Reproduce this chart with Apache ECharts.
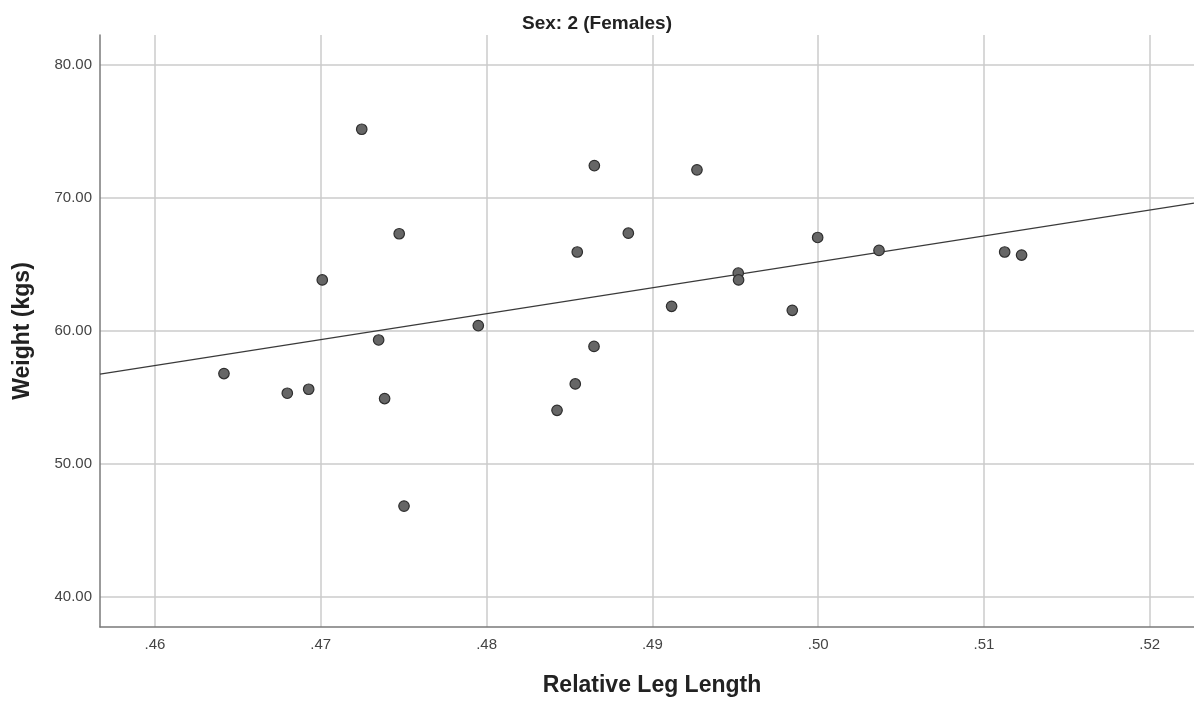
<!DOCTYPE html>
<html>
<head>
<meta charset="utf-8">
<script src="https://cdn.jsdelivr.net/npm/echarts@6/dist/echarts.min.js"></script>
<style>
html,body{margin:0;padding:0;background:#fff;}
#chart{width:1194px;height:702px;}
</style>
</head>
<body>
<div id="chart"></div>
<script>
// Relative leg length (x) and weight in kg (y) for each female subject
const legLength = [0.46416, 0.46798, 0.46927, 0.47009, 0.47247, 0.47349, 0.47385, 0.47473, 0.47502, 0.47950,
                   0.48425, 0.48535, 0.48547, 0.48650, 0.48648, 0.48855, 0.49116, 0.49269, 0.49518, 0.49520,
                   0.49844, 0.49997, 0.50367, 0.51125, 0.51227];
const weight    = [56.80, 55.32, 55.62, 63.83, 75.15, 59.32, 54.92, 67.30, 46.84, 60.40,
                   54.04, 56.02, 65.93, 72.42, 58.84, 67.34, 61.85, 72.10, 64.35, 63.83,
                   61.55, 67.02, 66.05, 65.93, 65.70];
// Linear fit line end points (at the axis extremes)
const fitX = [0.456683, 0.52267];
const fitY = [56.75, 69.60];
// Axis ranges
const xRange = [0.456683, 0.52267];
const yRange = [37.76, 82.23];
const titleText = 'Sex: 2 (Females)';
const xName = 'Relative Leg Length';
const yName = 'Weight (kgs)';

const points = legLength.map((x, i) => [x, weight[i]]);
const fitLine = fitX.map((x, i) => [x, fitY[i]]);

const chart = echarts.init(document.getElementById('chart'), null, {renderer: 'canvas'});
chart.setOption({
  animation: false,
  backgroundColor: '#ffffff',
  title: {
    text: titleText,
    left: 'center',
    top: 9,
    padding: [5, 5, 5, 12],
    textStyle: {fontFamily: 'Liberation Sans, Arial, sans-serif', fontWeight: 'bold', fontSize: 19, color: '#222'}
  },
  grid: {left: 100, right: 0, top: 35, bottom: 74, containLabel: false},
  xAxis: {
    type: 'value',
    min: xRange[0],
    max: xRange[1],
    splitNumber: 5,
    name: xName,
    nameLocation: 'middle',
    nameGap: 47,
    nameTextStyle: {fontFamily: 'Liberation Sans, Arial, sans-serif', fontWeight: 'bold', fontSize: 23, color: '#222', padding: [0, 0, 0, 10]},
    axisLine: {show: true, lineStyle: {color: '#7a7a7a', width: 1.5}},
    axisTick: {show: false},
    axisLabel: {
      margin: 10,
      showMinLabel: false,
      showMaxLabel: false,
      fontFamily: 'Liberation Sans, Arial, sans-serif',
      fontSize: 15,
      color: '#444',
      formatter: v => v.toFixed(2).replace(/^0/, '')
    },
    splitLine: {show: true, showMinLine: false, showMaxLine: false, lineStyle: {color: '#cbcbcb', width: 1.5}}
  },
  yAxis: {
    type: 'value',
    min: yRange[0],
    max: yRange[1],
    splitNumber: 5,
    name: yName,
    nameLocation: 'middle',
    nameGap: 66,
    nameTextStyle: {fontFamily: 'Liberation Sans, Arial, sans-serif', fontWeight: 'bold', fontSize: 23, color: '#222'},
    axisLine: {show: true, lineStyle: {color: '#7a7a7a', width: 1.5}},
    axisTick: {show: false},
    axisLabel: {
      margin: 8,
      showMinLabel: false,
      showMaxLabel: false,
      fontFamily: 'Liberation Sans, Arial, sans-serif',
      fontSize: 15,
      color: '#444',
      formatter: v => v.toFixed(2)
    },
    splitLine: {show: true, showMinLine: false, showMaxLine: false, lineStyle: {color: '#cbcbcb', width: 1.5}}
  },
  series: [
    {
      type: 'line',
      data: fitLine,
      showSymbol: false,
      symbol: 'none',
      silent: true,
      lineStyle: {color: '#3a3a3a', width: 1.3},
      z: 2
    },
    {
      type: 'scatter',
      data: points,
      symbol: 'circle',
      symbolSize: 10.5,
      itemStyle: {color: '#666666', borderColor: '#2e2e2e', borderWidth: 1.2, opacity: 1},
      z: 3
    }
  ]
});
</script>
</body>
</html>
